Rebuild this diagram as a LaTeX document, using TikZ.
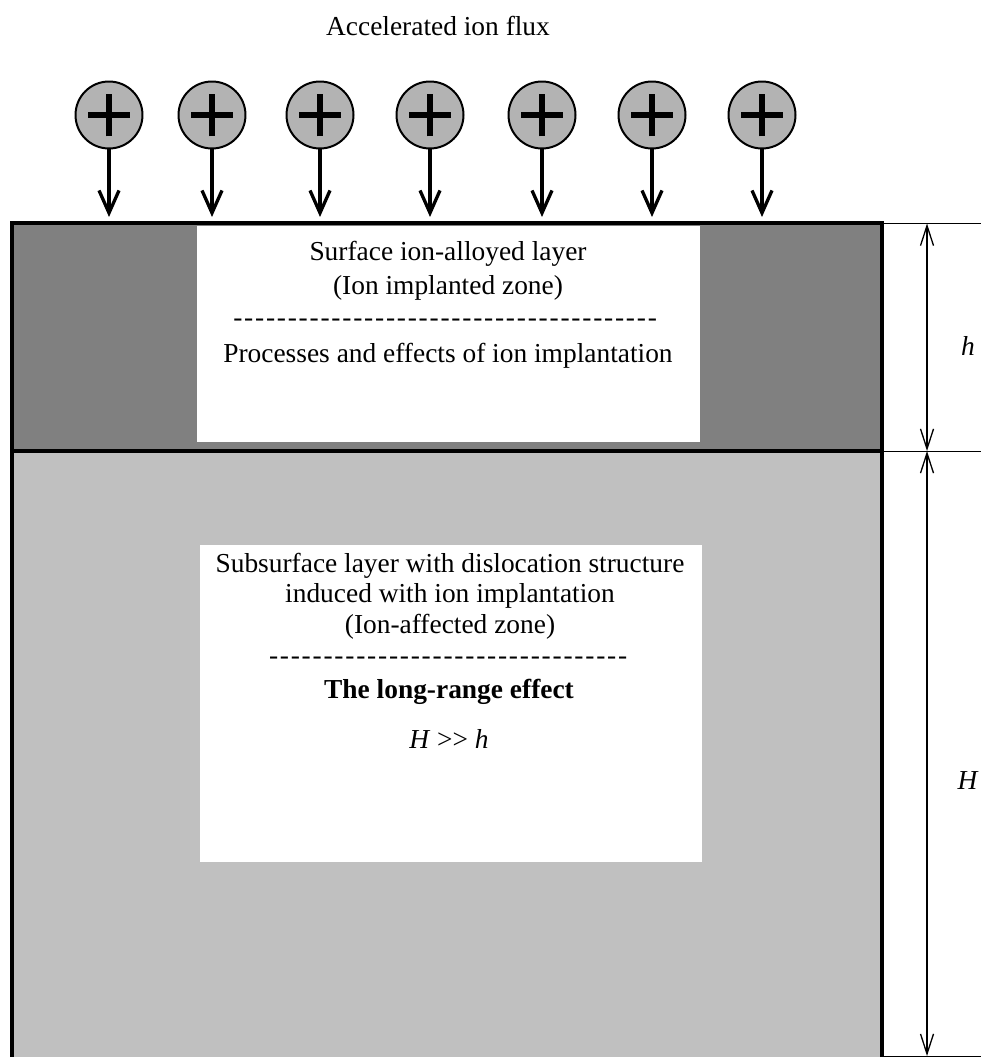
\documentclass[tikz,border=0pt]{standalone}
\usepackage{fontspec}
\setmainfont{Liberation Serif}
\usetikzlibrary{arrows.meta}
\usetikzlibrary{calc}

\definecolor{implgray}{HTML}{808080}
\definecolor{affgray}{HTML}{C0C0C0}
\definecolor{iongray}{HTML}{B3B3B3}

\newcommand{\dashrow}[1]{\foreach \k in {1,...,#1}{-\kern0.065em}}

\tikzset{
	ion/.style={circle, draw, line width=0.04cm, fill=iongray, minimum size=1.34cm, inner sep=0pt},
	plusbar/.style={line width=0.13cm},
	ionflux/.style={line width=0.066cm, -{Straight Barb[length=0.45cm,width=0.4cm]}},
	layer/.style={draw, line width=0.08cm},
	dimline/.style={line width=0.026cm, {Straight Barb[length=0.4cm,width=0.26cm]}-{Straight Barb[length=0.4cm,width=0.26cm]}},
	extline/.style={line width=0.02cm},
	txt/.style={anchor=base, inner sep=0pt, font=\fontsize{15.6}{19}\selectfont}
}

\begin{document}
\begin{tikzpicture}[x=0.02cm,y=-0.02cm]
\useasboundingbox (0,0) rectangle (981,1057);
\clip (0,0) rectangle (981,1057);

% layers
\fill[implgray] (12,223.5) rectangle (882,451);
\fill[affgray] (12,451) rectangle (882,1062);
\fill[white] (197,226) rectangle (700,442);
\fill[white] (200,545) rectangle (702,862);
\draw[layer] (12,1062) -- (12,223.5) -- (882,223.5) -- (882,1062);
\draw[layer] (12,451) -- (882,451);

% ion flux
\node[txt] (flux) at (438,36) {Accelerated ion flux};

\foreach \x [count=\i] in {109,212,320,430,542,652,762}{
	\node[ion] (ion\i) at (\x,115) {};
	\draw[plusbar] ([xshift=-0.42cm]ion\i.center) -- ([xshift=0.42cm]ion\i.center);
	\draw[plusbar] ([yshift=-0.43cm]ion\i.center) -- ([yshift=0.43cm]ion\i.center);
	\coordinate (hit\i) at (\x,217);
	\draw[ionflux] (ion\i.south) -- (hit\i);
}

% dimensions
\coordinate (etop) at (882,223.5);
\coordinate (emid) at (882,451);
\coordinate (ebot) at (882,1056);
\draw[extline] (etop) -- ++(99,0);
\draw[extline] (emid) -- ++(99,0);
\draw[extline] (ebot) -- ++(99,0);

\coordinate (dtop) at (927,223.5);
\coordinate (dmid) at (927,451);
\coordinate (dbot) at (927,1056);
\draw[dimline] (dtop) -- (dmid);
\draw[dimline] (dmid) -- (dbot);

\node[txt] (hlab) at (968,355) {\textit{h}};
\node[txt] (Hlab) at (968,789) {\textit{H}};

% implanted zone
\node[txt] (impl1) at (448,261) {Surface ion-alloyed layer};
\node[txt] (impl2) at (448,295) {(Ion implanted zone)};
\node[txt] (impl3) at (446,326) {\dashrow{39}};
\node[txt] (impl4) at (448,362) {Processes and effects of ion implantation};

% affected zone
\node[txt] (aff1) at (450,572) {Subsurface layer with dislocation structure};
\node[txt] (aff2) at (450,602) {induced with ion implantation};
\node[txt] (aff3) at (450,633) {(Ion-affected zone)};
\node[txt] (aff4) at (449,664) {\dashrow{33}};
\node[txt] (aff5) at (449,698) {\bfseries The long-range effect};
\node[txt] (aff6) at (449,748) {\textit{H} >{}> \textit{h}};

\end{tikzpicture}
\end{document}
